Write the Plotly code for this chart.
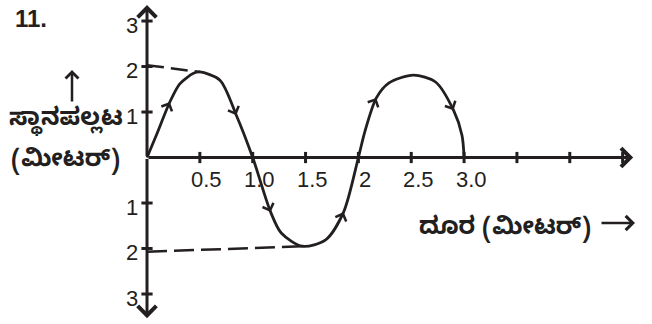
import numpy as np
import plotly.graph_objects as go

# wave (distance in m, displacement in m)
wave_x = [0, 0.09, 0.216, 0.31, 0.44, 0.5, 0.69, 0.845, 1.0, 1.17, 1.27, 1.47, 1.69, 1.86,
          2.0, 2.06, 2.17, 2.29, 2.52, 2.73, 2.9, 2.98, 3.0]
wave_y = [0, 0.50, 1.22, 1.62, 1.85, 1.88, 1.70, 0.93, 0, -1.20, -1.66, -1.95, -1.81, -1.20,
          0, 0.56, 1.31, 1.64, 1.81, 1.66, 1.04, 0.49, 0]
arrow_idx = [2, 7, 9, 13, 16, 20]

# dashed amplitude guides
upper_x = [0, 0.5]
upper_y = [2.03, 1.88]
lower_x = [0, 1.5]
lower_y = [-2.07, -1.95]

x_ticks = [0.5, 1.0, 1.5, 2.0, 2.5, 3.0, 3.5, 4.0, 4.5]
x_labels = ["0.5", "1.0", "1.5", "2", "2.5", "3.0", "", "", ""]
y_ticks = [3, 2, 1, -1, -2, -3]
y_labels = ["3", "2", "1", "1", "2", "3"]

x_end = 4.6
y_top = 3.35
y_bot = -3.53

INK = "#231f20"
W, H = 652, 324
XR = [-1.391, 4.778]
YR = [-3.659, 3.462]
kx = W / (XR[1] - XR[0])
ky = H / (YR[1] - YR[0])

fig = go.Figure()

fig.add_trace(go.Scatter(x=upper_x, y=upper_y, mode="lines",
                         line=dict(color=INK, width=2.5, dash="17px,7px")))
fig.add_trace(go.Scatter(x=lower_x, y=lower_y, mode="lines",
                         line=dict(color=INK, width=2.5, dash="20px,7px")))
fig.add_trace(go.Scatter(x=wave_x, y=wave_y, mode="lines",
                         line=dict(color=INK, width=2.8, shape="spline", smoothing=0.8)))

# tick marks
fig.add_trace(go.Scatter(x=x_ticks, y=[0] * len(x_ticks), mode="markers",
                         marker=dict(symbol="line-ns", size=8, line=dict(color=INK, width=3))))
fig.add_trace(go.Scatter(x=[0] * len(y_ticks), y=y_ticks, mode="markers",
                         marker=dict(symbol="line-ew", size=8, line=dict(color=INK, width=3))))

ann = []
# axes with arrow ends
for hx, hy in [(x_end, 0), (0, y_top), (0, y_bot)]:
    ann.append(dict(x=hx, y=hy, ax=0, ay=0, xref="x", yref="y", axref="x", ayref="y",
                    showarrow=True, arrowhead=4, arrowwidth=3, arrowsize=1.2,
                    arrowcolor=INK, text="", standoff=0))

# direction arrows on the wave
for i in arrow_idx:
    dx = (wave_x[i + 1] - wave_x[i - 1]) * kx
    dy = -(wave_y[i + 1] - wave_y[i - 1]) * ky
    n = np.hypot(dx, dy)
    ann.append(dict(x=wave_x[i], y=wave_y[i], ax=-dx / n * 6, ay=-dy / n * 6,
                    xref="x", yref="y", showarrow=True, arrowhead=4, arrowwidth=2.5,
                    arrowsize=0.9, arrowcolor=INK, text="", standoff=0))

num_font = dict(family="Liberation Sans, Arial, sans-serif", size=22, color=INK)
for v, t in zip(x_ticks, x_labels):
    if t:
        ann.append(dict(x=v, y=0, text=t, showarrow=False, xshift=7, yshift=-22,
                        xanchor="center", yanchor="middle", font=num_font))
for v, t in zip(y_ticks, y_labels):
    ann.append(dict(x=0, y=v, text=t, showarrow=False, xanchor="right", xshift=-7,
                    yanchor="middle", yshift=-4, font=num_font))

kn_font = dict(family="Noto Sans Kannada, Noto Sans, sans-serif", size=24, color=INK)


def paper_text(px, py, text, font, anchor="center"):
    return dict(x=px / W, y=1 - py / H, xref="paper", yref="paper", text=text,
                showarrow=False, xanchor=anchor, yanchor="middle", font=font)


ann += [
    paper_text(13, 18, "<b>11.</b>", dict(family="Liberation Sans, Arial", size=24, color=INK),
               anchor="left"),
    paper_text(66, 121, "<b>ಸ್ಥಾನಪಲ್ಲಟ</b>", kn_font),
    paper_text(65, 162, "<b>(ಮೀಟರ್)</b>", kn_font),
    paper_text(505, 230, "<b>ದೂರ (ಮೀಟರ್)</b>", kn_font),
    # the little arrows next to the axis titles
    dict(x=72 / W, y=1 - 70 / H, xref="paper", yref="paper", ax=0, ay=33, text="",
         showarrow=True, arrowhead=4, arrowwidth=2.5, arrowsize=1.0, arrowcolor=INK,
         standoff=0),
    dict(x=635 / W, y=1 - 223 / H, xref="paper", yref="paper", ax=-35, ay=0, text="",
         showarrow=True, arrowhead=4, arrowwidth=2.5, arrowsize=1.1, arrowcolor=INK,
         standoff=0),
]

fig.update_layout(
    width=W, height=H, margin=dict(l=0, r=0, t=0, b=0),
    paper_bgcolor="white", plot_bgcolor="white", showlegend=False,
    xaxis=dict(range=XR, visible=False),
    yaxis=dict(range=YR, visible=False),
    annotations=ann,
)

fig.write_html("out.html", config={"displayModeBar": False},
               post_script="document.body.style.margin='0';")
